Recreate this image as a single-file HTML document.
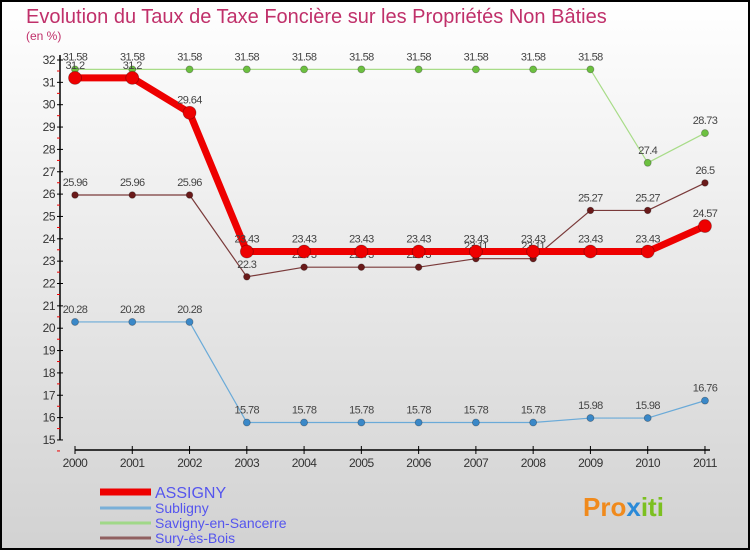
<!DOCTYPE html>
<html><head><meta charset="utf-8"><style>
body{margin:0;width:750px;height:550px;overflow:hidden;font-family:"Liberation Sans",sans-serif}
</style></head><body>
<svg id="c" width="750" height="550" xmlns="http://www.w3.org/2000/svg">
<defs><linearGradient id="bg" x1="0" y1="0" x2="0" y2="1"><stop offset="0" stop-color="#ffffff"/><stop offset="1" stop-color="#d2d2d2"/></linearGradient></defs>
<rect x="1" y="1" width="748" height="548" fill="url(#bg)" stroke="#000" stroke-width="2"/>
<text x="26" y="23" font-size="20" fill="#c0306a">Evolution du Taux de Taxe Foncière sur les Propriétés Non Bâties</text>
<text x="26" y="40" font-size="12" fill="#c0306a">(en %)</text>
<g id="axes"></g><g id="series"></g><g id="legend"></g>
<text x="583" y="516" font-size="26" font-weight="bold" fill="#f08a1c">Pro<tspan fill="#2a8ad8">x</tspan><tspan fill="#7cc020">iti</tspan></text>
</svg>
<script>
const years=["2000","2001","2002","2003","2004","2005","2006","2007","2008","2009","2010","2011"];
const yTicks=[15,16,17,18,19,20,21,22,23,24,25,26,27,28,29,30,31,32];
const assigny=[31.2,31.2,29.64,23.43,23.43,23.43,23.43,23.43,23.43,23.43,23.43,24.57];
const subligny=[20.28,20.28,20.28,15.78,15.78,15.78,15.78,15.78,15.78,15.98,15.98,16.76];
const savigny=[31.58,31.58,31.58,31.58,31.58,31.58,31.58,31.58,31.58,31.58,27.4,28.73];
const sury=[25.96,25.96,25.96,22.3,22.73,22.73,22.73,23.11,23.11,25.27,25.27,26.5];
const NS="http://www.w3.org/2000/svg";
const X=i=>75+i*57.27, Y=v=>60+(32-v)*22.35;
function mk(t,a,p){const e=document.createElementNS(NS,t);for(const k in a)e.setAttribute(k,a[k]);p.appendChild(e);return e;}
const ax=document.getElementById('axes');
const yl=mk('line',{x1:60,y1:55,x2:60,y2:Y(15),stroke:'#000','stroke-width':1.5},ax);


yTicks.forEach(v=>{
 mk('line',{x1:57,y1:Y(v),x2:63,y2:Y(v),stroke:'#000'},ax);
 mk('line',{x1:57,y1:Y(v)+11,x2:60,y2:Y(v)+11,stroke:'#e00'},ax);
 const t=mk('text',{x:55,y:Y(v)+4,'font-size':12,'text-anchor':'end',fill:'#333','letter-spacing':'-0.5'},ax);
 t.textContent=v;
 
 
});
const xl=mk('line',{x1:75,y1:450,x2:710,y2:450,stroke:'#000','stroke-width':1.5},ax);


years.forEach((y,i)=>{
 mk('line',{x1:X(i),y1:446,x2:X(i),y2:454,stroke:'#000'},ax);
 const t=mk('text',{x:X(i),y:467,'font-size':12,'text-anchor':'middle',fill:'#333','letter-spacing':'-0.5'},ax);
 t.textContent=y;
 
 
});
const sg=document.getElementById('series');
function series(name,data,line,dot,w,r,fs){
 const g=mk('g',{},sg);
 
 
 mk('polyline',{points:data.map((v,i)=>X(i)+','+Y(v)).join(' '),fill:'none',stroke:line,'stroke-width':w,'stroke-linejoin':'round'},g);
 data.forEach((v,i)=>{
  const c=mk('circle',{cx:X(i),cy:Y(v),r:r,fill:dot,stroke:'rgba(0,0,0,0.3)','stroke-width':0.8},g);
  
  
  const t=mk('text',{x:X(i),y:Y(v)-9,'font-size':fs,'text-anchor':'middle',fill:'#444','letter-spacing':'-0.6'},g);
  t.textContent=v;
  
  
 });
}
series('sury',sury,'#7a3a3a','#6a1a1a',1.2,3.3,11);
series('subligny',subligny,'#6aaad8','#3a88c8',1.2,3.5,11);
series('savigny',savigny,'#a8dc88','#6cc040',1.2,3.5,11);
series('assigny',assigny,'#ee0000','#ee0000',7,6.5,11);
const lg=document.getElementById('legend');
[['ASSIGNY','#ee0000',7,16],['Subligny','#7ab0d8',3,14],['Savigny-en-Sancerre','#a0d888',3,14],['Sury-ès-Bois','#906060',3,14]].forEach((e,i)=>{
 const y=[492,508,523,538][i];
 const g=mk('g',{},lg);
 
 
 mk('line',{x1:100,y1:y,x2:151,y2:y,stroke:e[1],'stroke-width':e[2]},g);
 const t=mk('text',{x:155,y:y+(i==0?6:5),'font-size':e[3],fill:'#5555ee'},g);
 t.textContent=e[0];
});
</script>
</body></html>
